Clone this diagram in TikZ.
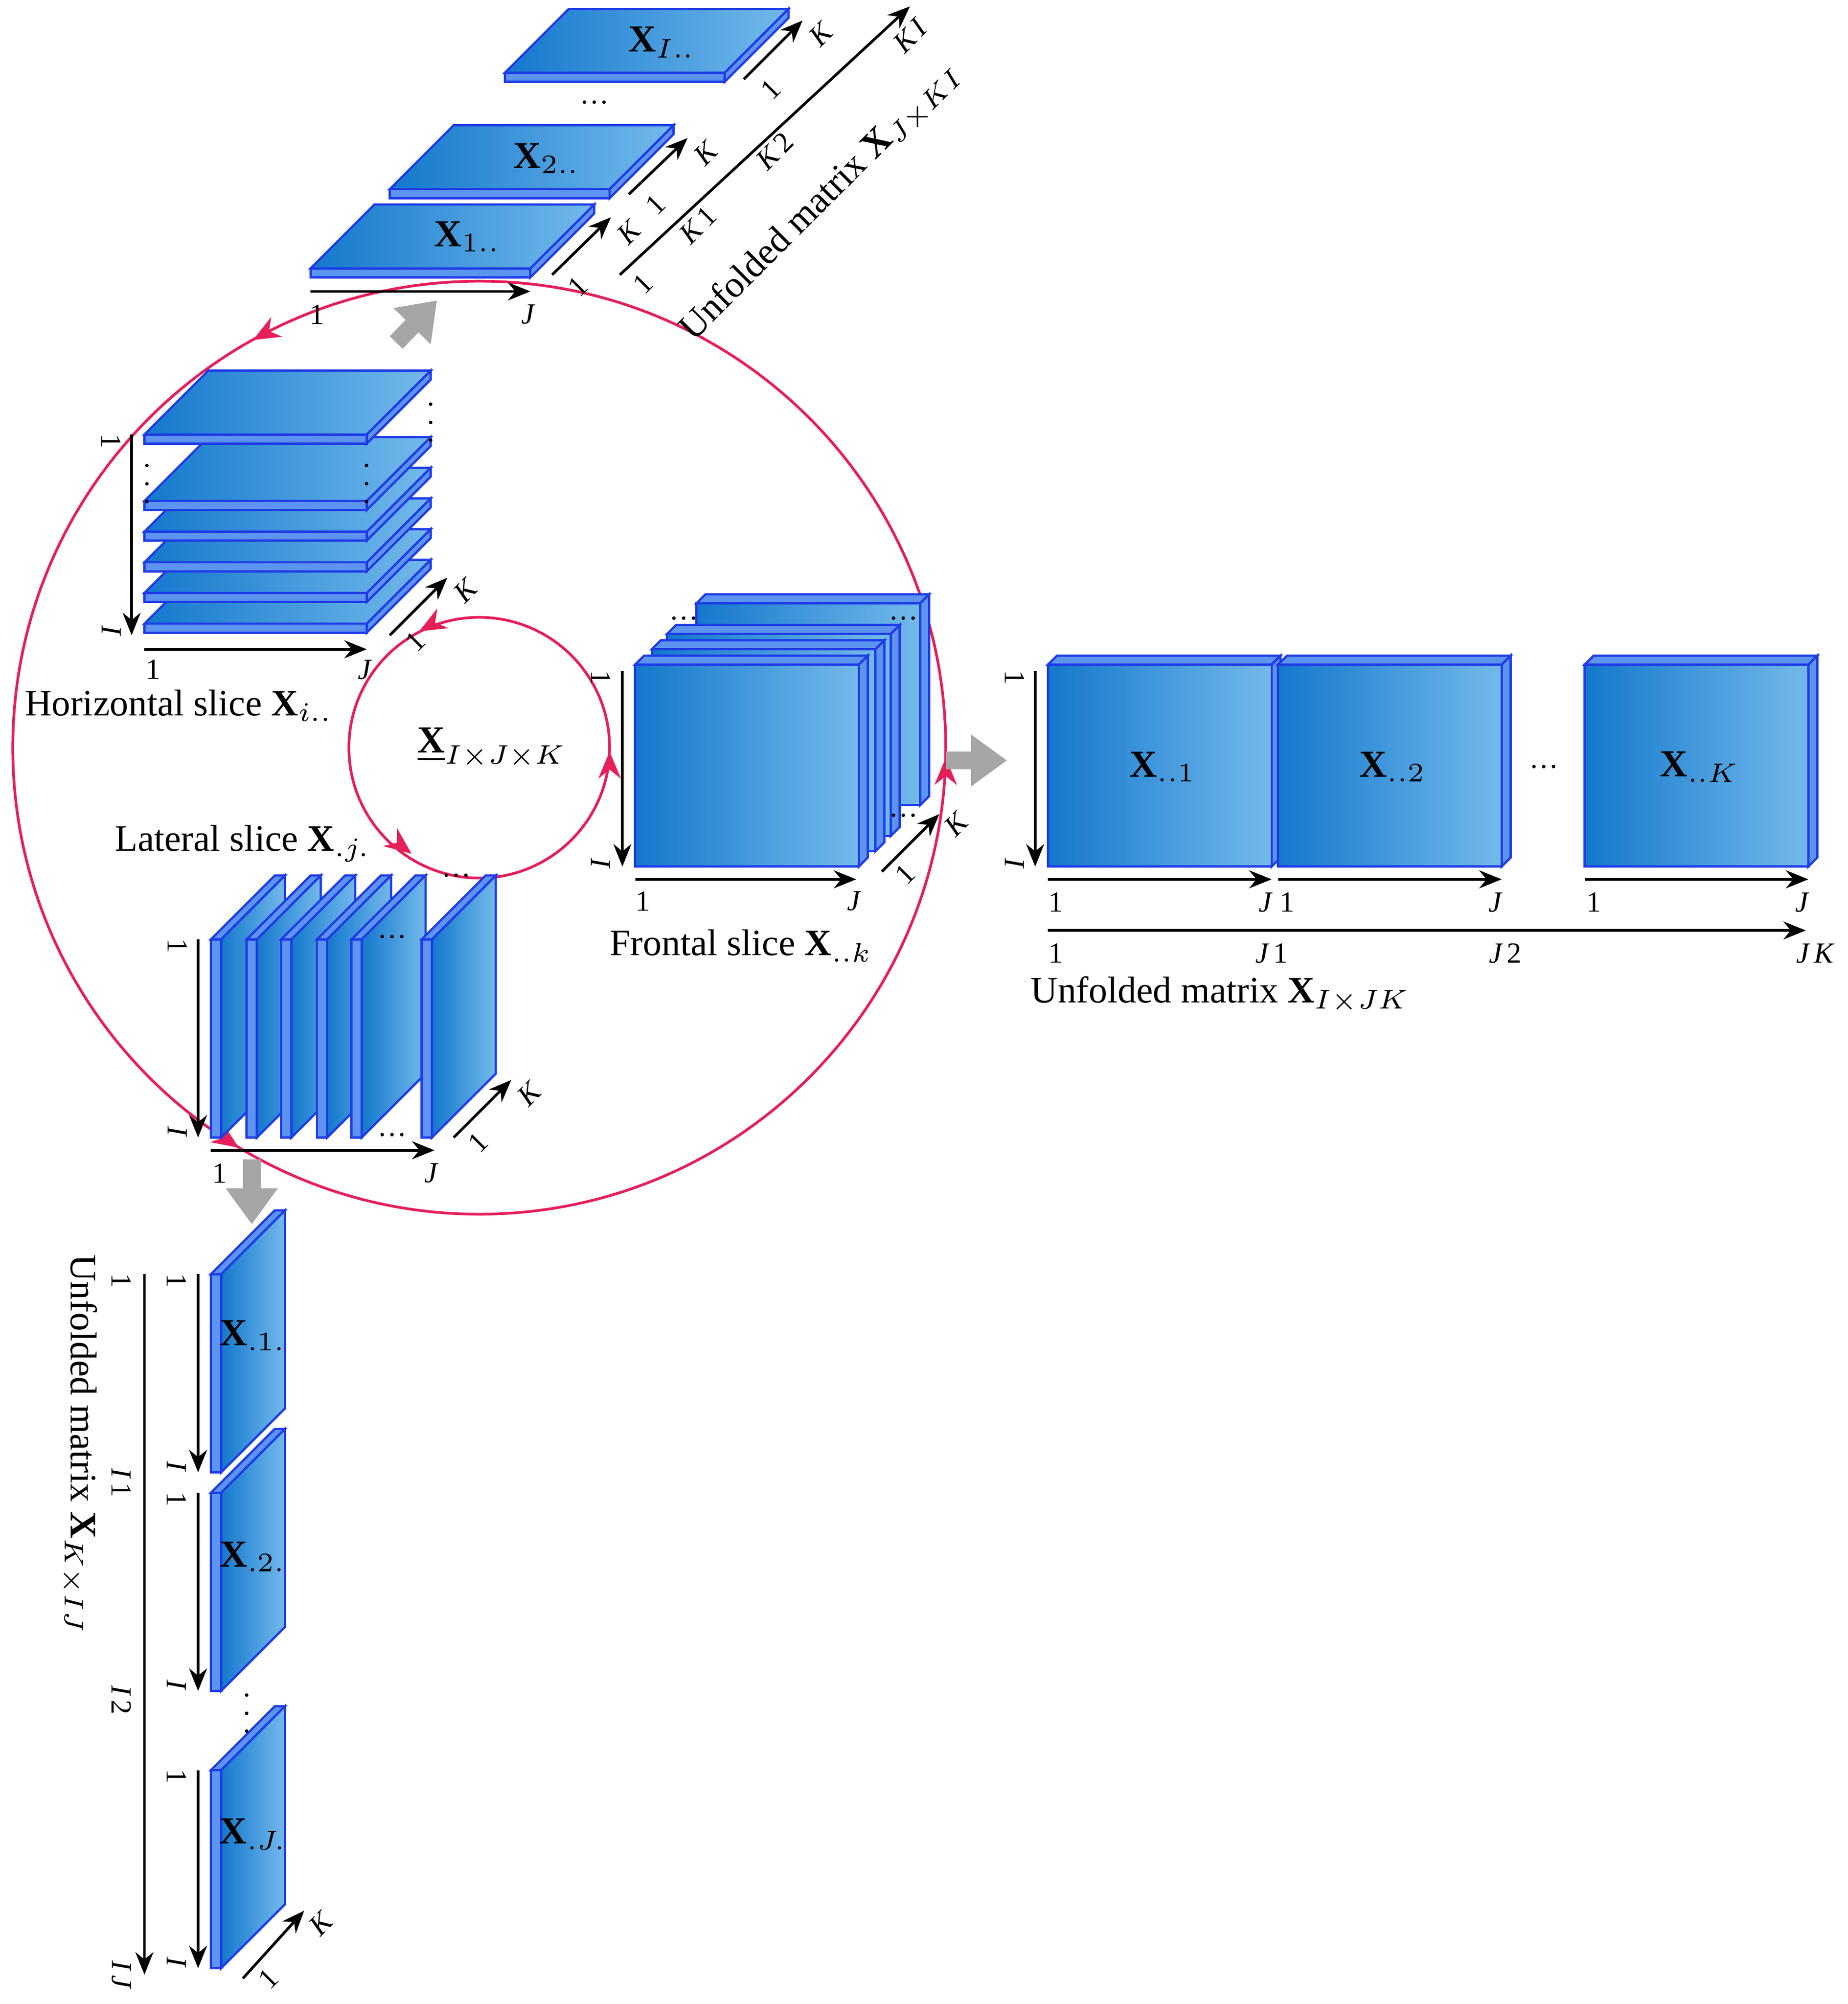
\documentclass[tikz,border=0pt]{standalone}
\usepackage{fontspec}
\setmainfont{Liberation Serif}
\usetikzlibrary{arrows.meta}
\definecolor{bdark}{RGB}{20,120,205}
\definecolor{blight}{RGB}{115,185,235}
\definecolor{bedge}{RGB}{30,60,230}
\definecolor{pinkc}{RGB}{230,30,90}
\tikzset{
 face/.style={left color=bdark,right color=blight,draw=bedge,line width=0.5pt},
 strip/.style={fill=blight!80!blue,draw=bedge,line width=0.5pt},
 ax/.style={-{Stealth[length=5pt,width=4pt]},line width=0.6pt},
 lab/.style={font=\fontsize{6.5}{8}\selectfont\itshape,inner sep=1pt},
 num/.style={font=\fontsize{6.5}{8}\selectfont,inner sep=1pt},
 big/.style={font=\fontsize{8.5}{10}\selectfont,inner sep=1pt},
 mlab/.style={font=\fontsize{8.3}{10}\selectfont,inner sep=1pt},
 ring/.style={draw=pinkc,line width=0.6pt},
 rtip/.style={-{Stealth[length=6pt,width=5pt]},draw=pinkc,line width=0.6pt},
 gray arrow/.style={-{Triangle[length=8pt,width=11pt]},line width=4pt,draw=gray!70},
}
\newcommand\hslab[3]{\begin{scope}[shift={(#1,#2)}]
 \path[face] (0,0) -- (#3,0) -- (#3+50,-50) -- (50,-50) -- cycle;
 \path[strip] (0,0) rectangle (#3,7);
 \path[strip] (#3,0) -- (#3+50,-50) -- (#3+50,-43) -- (#3,7) -- cycle;
\end{scope}}
\newcommand\fslab[2]{\begin{scope}[shift={(#1,#2)}]
 \path[strip] (0,0) -- (7,-7) -- (182,-7) -- (175,0) -- cycle;
 \path[strip] (175,0) -- (182,-7) -- (182,151) -- (175,158) -- cycle;
 \path[face] (0,0) rectangle (175,158);
\end{scope}}
\newcommand\lslab[3]{\begin{scope}[shift={(#1,#2)}]
 \path[strip] (0,0) -- (50,-50) -- (58,-50) -- (8,0) -- cycle;
 \path[face] (8,0) -- (58,-50) -- (58,#3-50) -- (8,#3) -- cycle;
 \path[strip] (0,0) rectangle (8,#3);
\end{scope}}
\begin{document}
\begin{tikzpicture}[x=0.01cm,y=-0.01cm]
\useasboundingbox (0,0) rectangle (1446,1568);
% circles
\draw[ring] (375,585) circle [radius=365];
\draw[ring] (375,585) circle [radius=102];
\draw[rtip] (207,261) -- (198,266);
\draw[rtip] (740,603) -- (740,593);
\draw[rtip] (178,892) -- (187,898);
\draw[rtip] (337,489) -- (328,494);
\draw[rtip] (477,598) -- (477,588);
\draw[rtip] (313,661) -- (322,668);
\node[big] (X) at (385,585) {$\underline{\mathbf{X}}_{I\times J\times K}$};
% gray arrows
\draw[gray arrow] (310,268) -- (342,235);
\draw[gray arrow] (740,595) -- (788,595);
\draw[gray arrow] (197,907) -- (197,958);
% top unfolded
\hslab{395}{57}{172}
\hslab{305}{148}{172}
\hslab{243}{210}{172}
\node[big] (t1) at (366,185) {$\mathbf{X}_{1..}$};
\node[big] (t2) at (428,124) {$\mathbf{X}_{2..}$};
\node[big] (t3) at (518,33) {$\mathbf{X}_{I..}$};
\node[num] (tdots) at (465,80) {\dots};
\draw[ax] (243,228) -- (415,228);
\node[num] at (248,246) {1}; \node[lab] at (413,246) {J};
\draw[ax] (432,215) -- (478,170); \node[num,rotate=45] at (452,224) {1}; \node[lab,rotate=45] at (492,182) {K};
\draw[ax] (492,152) -- (538,108); \node[num,rotate=45] at (513,160) {1}; \node[lab,rotate=45] at (552,120) {K};
\draw[ax] (582,62) -- (628,16); \node[num,rotate=45] at (603,70) {1}; \node[lab,rotate=45] at (642,27) {K};
\draw[ax] (485,215) -- (712,5);
\node[num,rotate=45] at (503,222) {1};
\node[lab,rotate=45] at (546,176) {K\,\upshape 1};
\node[lab,rotate=45] at (606,118) {K\,\upshape 2};
\node[lab,rotate=45] at (712,28) {K\,I};
\node[mlab,rotate=45] (tu) at (643,158) {Unfolded matrix $\mathbf{X}_{J\times KI}$};
% horizontal slices
\hslab{113}{488}{174}
\hslab{113}{464}{174}
\hslab{113}{440}{174}
\hslab{113}{416}{174}
\hslab{113}{392}{174}
\hslab{113}{340}{174}
\node[num] at (115,368) {$\vdots$};
\node[num] at (287,368) {$\vdots$};
\node[num] at (337,320) {$\vdots$};
\draw[ax] (103,340) -- (103,497);
\node[num,rotate=-90] at (87,345) {1}; \node[lab,rotate=-90] at (87,493) {I};
\draw[ax] (113,508) -- (287,508);
\node[num] at (120,524) {1}; \node[lab] at (285,524) {J};
\draw[ax] (305,497) -- (350,452);
\node[num,rotate=45] at (325,502) {1}; \node[lab,rotate=45] at (364,462) {K};
\node[mlab] (hs) at (140,552) {Horizontal slice $\mathbf{X}_{i..}$};
% frontal slices
\fslab{545}{472}
\fslab{522}{496}
\fslab{510}{508}
\fslab{497}{520}
\node[num] at (535,484) {\dots};
\node[num] at (707,484) {\dots};
\node[num] at (707,638) {\dots};
\draw[ax] (487,525) -- (487,678);
\node[num,rotate=-90] at (470,530) {1}; \node[lab,rotate=-90] at (470,675) {I};
\draw[ax] (497,688) -- (670,688);
\node[num] at (503,705) {1}; \node[lab] at (668,705) {J};
\draw[ax] (690,682) -- (735,637);
\node[num,rotate=45] at (708,684) {1}; \node[lab,rotate=45] at (748,645) {K};
\node[mlab] (fs) at (580,740) {Frontal slice $\mathbf{X}_{..k}$};
% unfolded I x JK
\fslab{820}{520}
\fslab{1000}{520}
\fslab{1240}{520}
\node[big] at (910,600) {$\mathbf{X}_{..1}$};
\node[big] at (1090,600) {$\mathbf{X}_{..2}$};
\node[big] at (1330,600) {$\mathbf{X}_{..K}$};
\node[num] at (1208,600) {\dots};
\draw[ax] (810,525) -- (810,678);
\node[num,rotate=-90] at (794,530) {1}; \node[lab,rotate=-90] at (794,675) {I};
\draw[ax] (820,688) -- (995,688);
\draw[ax] (1000,688) -- (1175,688);
\draw[ax] (1240,688) -- (1415,688);
\node[num] at (826,706) {1}; \node[lab] at (990,706) {J};
\node[num] at (1007,706) {1}; \node[lab] at (1170,706) {J};
\node[num] at (1247,706) {1}; \node[lab] at (1410,706) {J};
\draw[ax] (820,728) -- (1413,728);
\node[num] at (826,746) {1};
\node[lab] at (995,746) {J\,\upshape 1};
\node[lab] at (1178,746) {J\,\upshape 2};
\node[lab] at (1420,746) {J\,K};
\node[mlab] (uu) at (955,778) {Unfolded matrix $\mathbf{X}_{I\times JK}$};
% lateral slices
\lslab{165}{735}{155}
\lslab{193}{735}{155}
\lslab{220}{735}{155}
\lslab{248}{735}{155}
\lslab{275}{735}{155}
\lslab{330}{735}{155}
\node[num] at (307,733) {\dots};
\node[num] at (307,888) {\dots};
\node[num] at (357,685) {\dots};
\draw[ax] (155,735) -- (155,890);
\node[num,rotate=-90] at (139,740) {1}; \node[lab,rotate=-90] at (139,885) {I};
\draw[ax] (165,900) -- (340,900);
\node[num] at (172,918) {1}; \node[lab] at (337,918) {J};
\draw[ax] (355,890) -- (400,845);
\node[num,rotate=45] at (374,894) {1}; \node[lab,rotate=45] at (414,856) {K};
\node[mlab] (ls) at (190,660) {Lateral slice $\mathbf{X}_{.j.}$};
% bottom unfolded
\lslab{165}{997}{155}
\lslab{165}{1168}{155}
\lslab{165}{1385}{155}
\node[big] at (198,1045) {$\mathbf{X}_{.1.}$};
\node[big] at (198,1218) {$\mathbf{X}_{.2.}$};
\node[big] at (198,1435) {$\mathbf{X}_{.J.}$};
\node[num] at (193,1330) {$\vdots$};
\draw[ax] (155,997) -- (155,1152);
\draw[ax] (155,1168) -- (155,1323);
\draw[ax] (155,1385) -- (155,1540);
\foreach \yy in {997,1168,1385}{
 \node[num,rotate=-90] at (138,\yy+5) {1};
 \node[lab,rotate=-90] at (138,\yy+150) {I};
}
\draw[ax] (113,997) -- (113,1545);
\node[num,rotate=-90] at (95,1002) {1};
\node[lab,rotate=-90] at (95,1160) {I\,\upshape 1};
\node[lab,rotate=-90] at (95,1330) {I\,\upshape 2};
\node[lab,rotate=-90] at (95,1545) {I\,J};
\node[mlab,rotate=-90] (bu) at (62,1130) {Unfolded matrix $\mathbf{X}_{K\times IJ}$};
\draw[ax] (190,1548) -- (238,1495);
\node[num,rotate=45] at (210,1548) {1}; \node[lab,rotate=45] at (251,1505) {K};
\end{tikzpicture}
\end{document}
